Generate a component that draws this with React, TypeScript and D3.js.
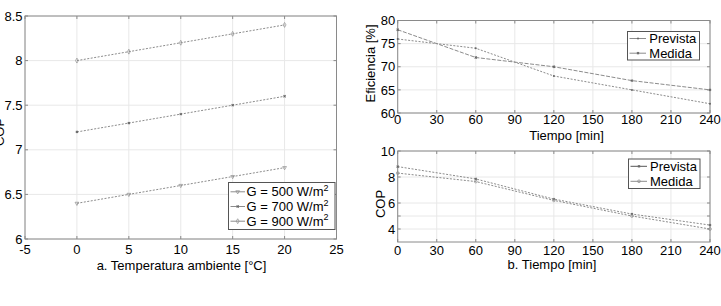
import React from "react";
import * as d3 from "d3";

const W = 721;
const H = 306;

// Left panel data
const tempX = [0, 5, 10, 15, 20];
const cop500 = [6.4, 6.5, 6.6, 6.7, 6.8];
const cop700 = [7.2, 7.3, 7.4, 7.5, 7.6];
const cop900 = [8.0, 8.1, 8.2, 8.3, 8.4];
const leftXTicks = [-5, 0, 5, 10, 15, 20, 25];
const leftYTicks = [6, 6.5, 7, 7.5, 8, 8.5];
const leftLegend = ["500", "700", "900"];

// Right panels data
const timeX = [0, 60, 120, 180, 240];
const efPrevista = [76, 74, 68, 65, 62];
const efMedida = [78, 72, 70, 67, 65];
const copPrevista = [8.8, 7.85, 6.3, 5.15, 4.3];
const copMedida = [8.3, 7.65, 6.2, 5.0, 4.0];
const timeTicks = [0, 30, 60, 90, 120, 150, 180, 210, 240];
const efTicks = [60, 65, 70, 75, 80];
const copTicks = [4, 6, 8, 10];
const copGrid = [4, 5, 6, 8, 10];

const FONT = "'Liberation Sans', Arial, Helvetica, sans-serif";
const GRID = "#e8e8e8";
const AXIS = "#8a8a8a";
const LINE = "#8c8c8c";

type Sc = d3.ScaleLinear<number, number>;

function Marker({ kind, x, y }: { kind: string; x: number; y: number }) {
  if (kind === "tri") {
    const p = d3.symbol(d3.symbolTriangle, 6)() as string;
    return <path d={p} transform={`translate(${x},${y}) rotate(180)`} fill="none" stroke={LINE} strokeWidth={0.7} />;
  }
  if (kind === "star") {
    const p = d3.symbol(d3.symbolCross, 5)() as string;
    return <path d={p} transform={`translate(${x},${y}) rotate(45)`} fill={"#666"} stroke="none" />;
  }
  if (kind === "dot") {
    return <circle cx={x} cy={y} r={1} fill="#666" />;
  }
  if (kind === "diamond") {
    const p = d3.symbol(d3.symbolDiamond, 7)() as string;
    return <path d={p} transform={`translate(${x},${y})`} fill="none" stroke={LINE} strokeWidth={0.7} />;
  }
  return <circle cx={x} cy={y} r={1.4} fill="none" stroke={LINE} strokeWidth={0.7} />;
}

function Frame({
  x, y, xTicks, yTicks, yGrid,
}: { x: Sc; y: Sc; xTicks: number[]; yTicks: number[]; yGrid?: number[] }) {
  const [x0, x1] = x.range();
  const [y0, y1] = y.range();
  const gy = yGrid || yTicks;
  return (
    <g>
      <rect x={x0} y={y1} width={x1 - x0} height={y0 - y1} fill="#fff" />
      {xTicks.map((t) => (
        <line key={"gx" + t} x1={x(t)} x2={x(t)} y1={y0} y2={y1} stroke={GRID} strokeWidth={1} />
      ))}
      {gy.map((t) => (
        <line key={"gy" + t} x1={x0} x2={x1} y1={y(t)} y2={y(t)} stroke={GRID} strokeWidth={1} />
      ))}
      {xTicks.map((t) => (
        <g key={"tx" + t}>
          <line x1={x(t)} x2={x(t)} y1={y0} y2={y0 - 3} stroke={AXIS} />
          <line x1={x(t)} x2={x(t)} y1={y1} y2={y1 + 3} stroke={AXIS} />
        </g>
      ))}
      {gy.map((t) => (
        <g key={"ty" + t}>
          <line x1={x0} x2={x0 + 3} y1={y(t)} y2={y(t)} stroke={AXIS} />
          <line x1={x1} x2={x1 - 3} y1={y(t)} y2={y(t)} stroke={AXIS} />
        </g>
      ))}
      <rect x={x0} y={y1} width={x1 - x0} height={y0 - y1} fill="none" stroke={AXIS} strokeWidth={1} />
      {yTicks.map((t) => (
        <text key={"ly" + t} x={x0 - 2.5} y={y(t)} dy="0.36em" textAnchor="end" fontSize={13}>
          {String(t)}
        </text>
      ))}
    </g>
  );
}

function Series({ x, y, xs, ys, dash, marker }: { x: Sc; y: Sc; xs: number[]; ys: number[]; dash: string; marker: string }) {
  const line = d3.line<number>().x((_, i) => x(xs[i])).y((v) => y(v));
  return (
    <g>
      <path d={line(ys) as string} fill="none" stroke={LINE} strokeWidth={1} strokeDasharray={dash} />
      {ys.map((v, i) => (
        <Marker key={i} kind={marker} x={x(xs[i])} y={y(v)} />
      ))}
    </g>
  );
}

export default function App() {
  const xL = d3.scaleLinear().domain([-5, 25]).range([25, 336.5]);
  const yL = d3.scaleLinear().domain([6, 8.5]).range([239, 16]);
  const xR = d3.scaleLinear().domain([0, 240]).range([397.7, 710]);
  const yT = d3.scaleLinear().domain([60, 80]).range([113, 20.5]);
  const yB = d3.scaleLinear().domain([3, 10]).range([242, 151]);

  const leftMarkers = ["tri", "star", "diamond"];
  const leftData = [cop500, cop700, cop900];

  return (
    <svg width={W} height={H} style={{ position: "absolute", left: 0, top: 0, background: "#fff" }} fontFamily={FONT}>
      <rect x={0} y={0} width={W} height={H} fill="#fff" />

      {/* Left panel */}
      <Frame x={xL} y={yL} xTicks={leftXTicks} yTicks={leftYTicks} />
      {leftData.map((d, i) => (
        <Series key={i} x={xL} y={yL} xs={tempX} ys={d} dash="2,1.5" marker={leftMarkers[i]} />
      ))}
      {leftXTicks.map((t) => (
        <text key={t} x={xL(t)} y={253.5} textAnchor="middle" fontSize={13}>{t}</text>
      ))}
      <text x={181.5} y={269.5} textAnchor="middle" fontSize={13}>a. Temperatura ambiente [°C]</text>
      <text transform="translate(3.5,132) rotate(-90)" textAnchor="middle" fontSize={13}>COP</text>
      <g>
        <rect x={228.5} y={182.5} width={106.5} height={47} fill="#fff" stroke="#555" strokeWidth={1} />
        {leftLegend.map((g, i) => {
          const cy = 191.8 + i * 14.7;
          return (
            <g key={g}>
              <line x1={230.5} x2={245} y1={cy} y2={cy} stroke={LINE} strokeWidth={1} />
              <Marker kind={leftMarkers[i]} x={237.7} y={cy} />
              <text x={246.5} y={cy + 4.6} fontSize={13}>
                G = {g} W/m<tspan fontSize={9} dy={-5.5}>2</tspan>
              </text>
            </g>
          );
        })}
      </g>

      {/* Top right panel */}
      <Frame x={xR} y={yT} xTicks={timeTicks} yTicks={efTicks} />
      <Series x={xR} y={yT} xs={timeX} ys={efPrevista} dash="2,1.5" marker="dot" />
      <Series x={xR} y={yT} xs={timeX} ys={efMedida} dash="4,1.5" marker="star" />
      {timeTicks.map((t) => (
        <text key={t} x={xR(t)} y={124} textAnchor="middle" fontSize={13}>{t}</text>
      ))}
      <text x={566.5} y={140} textAnchor="middle" fontSize={13}>Tiempo [min]</text>
      <text transform="translate(374.5,63.5) rotate(-90)" textAnchor="middle" fontSize={13}>Eficiencia [%]</text>
      <g>
        <rect x={627.5} y={31.5} width={72} height={28.5} fill="#fff" stroke="#555" strokeWidth={1} />
        {["Prevista", "Medida"].map((s, i) => {
          const cy = 38.5 + i * 14.7;
          return (
            <g key={s}>
              <line x1={629.5} x2={646} y1={cy} y2={cy} stroke={LINE} strokeWidth={1} />
              <Marker kind={i === 0 ? "dot" : "star"} x={638} y={cy} />
              <text x={649.3} y={cy + 4.6} fontSize={13}>{s}</text>
            </g>
          );
        })}
      </g>

      {/* Bottom right panel */}
      <Frame x={xR} y={yB} xTicks={timeTicks} yTicks={copTicks} yGrid={copGrid} />
      <Series x={xR} y={yB} xs={timeX} ys={copPrevista} dash="2,1.5" marker="star" />
      <Series x={xR} y={yB} xs={timeX} ys={copMedida} dash="2,1.5" marker="circle" />
      {timeTicks.map((t) => (
        <text key={t} x={xR(t)} y={254.5} textAnchor="middle" fontSize={13}>{t}</text>
      ))}
      <text x={552} y={268.5} textAnchor="middle" fontSize={13}>b. Tiempo [min]</text>
      <text transform="translate(384.5,204) rotate(-90)" textAnchor="middle" fontSize={13}>COP</text>
      <g>
        <rect x={628.5} y={159} width={71.5} height={29.5} fill="#fff" stroke="#555" strokeWidth={1} />
        {["Prevista", "Medida"].map((s, i) => {
          const cy = 166.3 + i * 15;
          return (
            <g key={s}>
              <line x1={630.5} x2={647} y1={cy} y2={cy} stroke={i === 0 ? "#555" : LINE} strokeWidth={1} />
              <Marker kind={i === 0 ? "star" : "circle"} x={639} y={cy} />
              <text x={650} y={cy + 4.6} fontSize={13}>{s}</text>
            </g>
          );
        })}
      </g>
    </svg>
  );
}
